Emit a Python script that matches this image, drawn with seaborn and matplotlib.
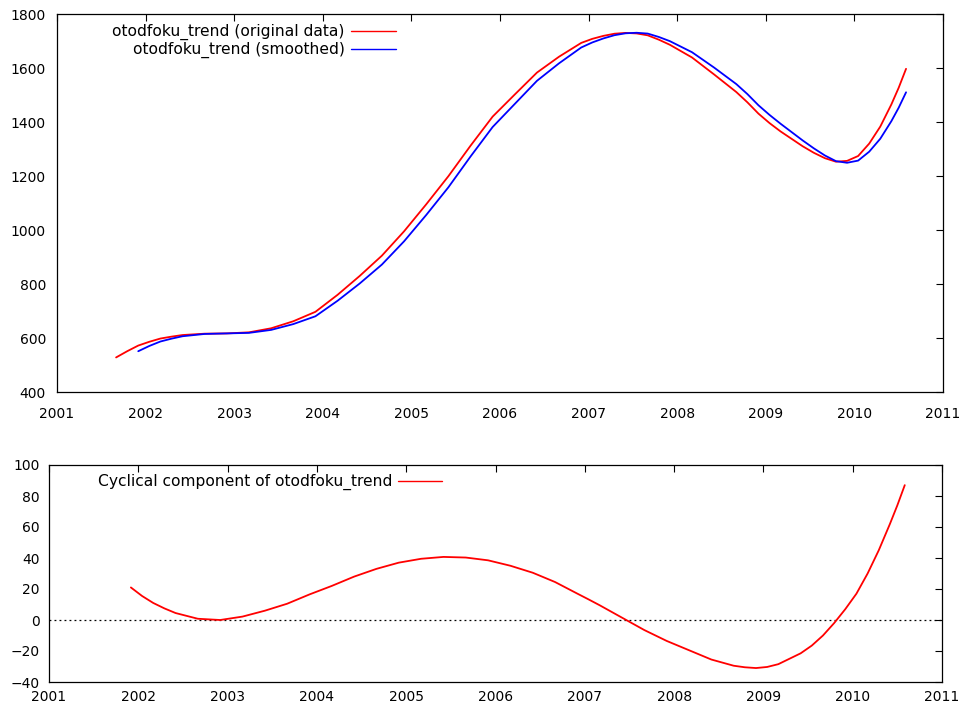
import numpy as np
import pandas as pd
import matplotlib
matplotlib.use("Agg")
import matplotlib.pyplot as plt
import seaborn as sns

# ---- data ----
years_orig = [2001.667, 2001.792, 2001.917, 2002.042, 2002.167, 2002.292, 2002.417, 2002.667,
              2002.917, 2003.167, 2003.417, 2003.667, 2003.917, 2004.167, 2004.417, 2004.667,
              2004.917, 2005.167, 2005.417, 2005.667, 2005.917, 2006.167, 2006.417, 2006.667,
              2006.917, 2007.042, 2007.167, 2007.292, 2007.417, 2007.542, 2007.667, 2007.792,
              2007.917, 2008.167, 2008.417, 2008.667, 2008.792, 2008.917, 2009.042, 2009.167,
              2009.417, 2009.542, 2009.667, 2009.792, 2009.917, 2010.042, 2010.167, 2010.292,
              2010.417, 2010.5, 2010.583]
original = [528, 551, 572, 586, 598, 605, 611, 616,
            617, 621, 636, 662, 697, 760, 830, 905,
            995, 1095, 1199, 1312, 1420, 1502, 1583, 1642,
            1693, 1708, 1719, 1727, 1730, 1728, 1721, 1705,
            1686, 1639, 1576, 1511, 1473, 1431, 1396, 1365,
            1310, 1286, 1266, 1253, 1256, 1274, 1320, 1383,
            1465, 1527, 1597]

years_smooth = years_orig[2:]
smoothed = [551, 570.5, 587, 597.5, 606.5, 615,
            617, 619, 630, 651.5, 680.5, 738, 802, 872,
            958, 1055.5, 1158, 1272, 1381.5, 1467, 1552.5, 1617.5,
            1676, 1694.7, 1709.5, 1721.5, 1728.5, 1730.5, 1727.5, 1715,
            1699.5, 1658.5, 1601.5, 1540.5, 1503.5, 1462, 1426.3, 1393.5,
            1331.5, 1302.5, 1276, 1255, 1249, 1257, 1290, 1338,
            1403, 1453, 1510]

cyclical = [21, 15.5, 11, 7.5, 4.5, 0.8,
            0, 2.2, 6, 10.5, 16.5, 22, 28, 33,
            37, 39.5, 40.7, 40.3, 38.5, 35, 30.5, 24.5,
            17, 13.3, 9.5, 5.5, 1.5, -2.5, -6.5, -10,
            -13.5, -19.5, -25.5, -29.5, -30.5, -31, -30.3, -28.5,
            -21.5, -16.5, -10, -2, 7, 17, 30, 45,
            62, 74, 87]

x_ticks = list(range(2001, 2012))
top_yticks = list(range(400, 1801, 200))
bot_yticks = list(range(-40, 101, 20))

label_orig = "otodfoku_trend (original data)"
label_smooth = "otodfoku_trend (smoothed)"
label_cyc = "Cyclical component of otodfoku_trend"

# ---- style ----
sns.set_theme(style="white")
plt.rcParams["font.family"] = ["DejaVu Sans"]
plt.rcParams.update({
    "axes.edgecolor": "black",
    "axes.linewidth": 0.9,
    "xtick.direction": "in",
    "ytick.direction": "in",
    "xtick.color": "black",
    "ytick.color": "black",
    "text.color": "black",
    "axes.labelcolor": "black",
})

W, H = 966, 713
fig = plt.figure(figsize=(W / 100, H / 100), dpi=100)
ax1 = fig.add_axes([57 / W, 1 - 392 / H, (943 - 57) / W, (392 - 14) / H])
ax2 = fig.add_axes([49 / W, 1 - 682 / H, (942 - 49) / W, (682 - 465) / H])

df_o = pd.DataFrame({"year": years_orig, "value": original})
df_s = pd.DataFrame({"year": years_smooth, "value": smoothed})
df_c = pd.DataFrame({"year": years_smooth, "value": cyclical})

sns.lineplot(data=df_o, x="year", y="value", ax=ax1, color="#ff0000", lw=1.3,
             label=label_orig, estimator=None, sort=False)
sns.lineplot(data=df_s, x="year", y="value", ax=ax1, color="#0000ff", lw=1.3,
             label=label_smooth, estimator=None, sort=False)
sns.lineplot(data=df_c, x="year", y="value", ax=ax2, color="#ff0000", lw=1.3,
             label=label_cyc, estimator=None, sort=False)
ax2.axhline(0, color="black", lw=0.9, ls=(0, (1.5, 2.5)), zorder=1)

for ax, yt, xpad, ypad in [(ax1, top_yticks, 11, 8), (ax2, bot_yticks, 6, 6.5)]:
    ax.set_xlim(2001, 2011)
    ax.set_ylim(yt[0], yt[-1])
    ax.set_xticks(x_ticks)
    ax.set_yticks(yt)
    ax.set_xlabel("")
    ax.set_ylabel("")
    ax.tick_params(axis="both", which="both", direction="in", length=5, width=0.8,
                   top=True, right=True, labelsize=10, colors="black")
    ax.tick_params(axis="x", pad=xpad)
    ax.tick_params(axis="y", pad=ypad)
    for s in ax.spines.values():
        s.set_visible(True)
        s.set_color("black")
        s.set_linewidth(0.9)

leg1 = ax1.legend(loc="upper right", bbox_to_anchor=((396 - 57) / 886, (392 - 24) / 378),
                  frameon=False, markerfirst=False, fontsize=11.2, handlelength=2.9,
                  handletextpad=0.4, borderpad=0, borderaxespad=0, labelspacing=0.12)
leg2 = ax2.legend(loc="upper right", bbox_to_anchor=((442 - 49) / 893, (682 - 474) / 217),
                  frameon=False, markerfirst=False, fontsize=11.2, handlelength=2.8,
                  handletextpad=0.4, borderpad=0, borderaxespad=0)
for leg in (leg1, leg2):
    for line in leg.get_lines():
        line.set_linewidth(1.0)

fig.savefig("out.png", dpi=100)
